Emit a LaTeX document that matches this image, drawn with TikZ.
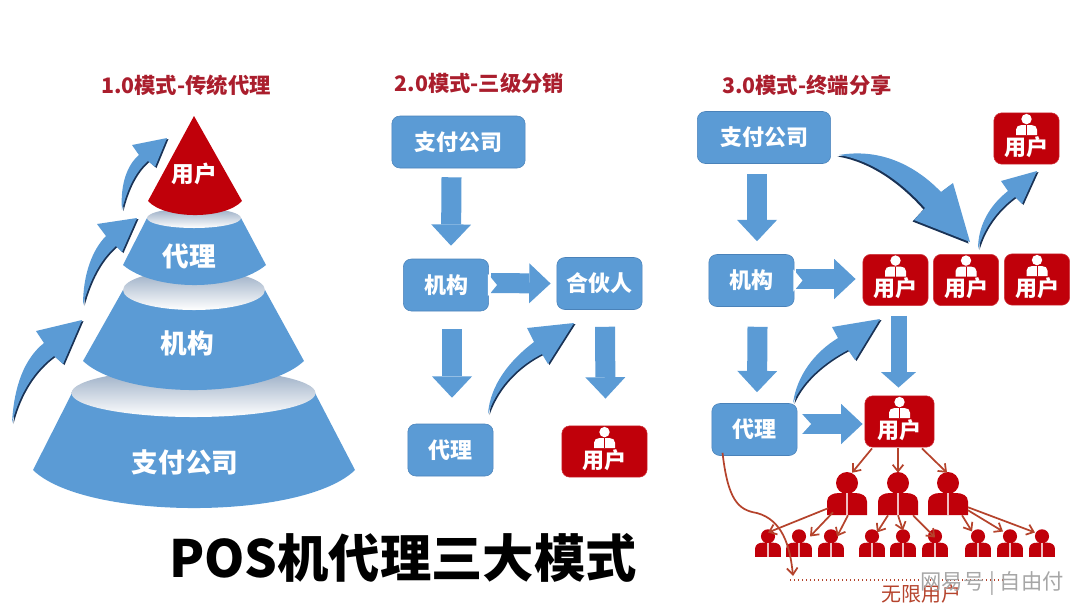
\documentclass[tikz,border=0pt]{standalone}
\usepackage{fontspec}
\usepackage{tikz}
\usetikzlibrary{arrows.meta,positioning}

\newfontfamily\cjk{Noto Sans CJK SC}

\definecolor{boxblue}{RGB}{91,155,213}
\definecolor{boxedge}{RGB}{74,130,185}
\definecolor{userred}{RGB}{192,0,10}
\definecolor{titlered}{RGB}{170,30,45}
\definecolor{linered}{RGB}{181,67,44}
\definecolor{lensgrey}{RGB}{150,170,195}
\definecolor{arrowdark}{RGB}{25,50,85}

\tikzset{
	paybox/.style={draw=boxedge,fill=boxblue,rounded corners=6pt,inner sep=0pt,minimum width=64pt,minimum height=39pt,text=white,font=\cjk\bfseries\fontsize{16.5pt}{16.5pt}\selectfont},
	widebox/.style={paybox,minimum width=100pt},
	userbox/.style={draw=userred!80!white,fill=userred,rounded corners=6pt,inner sep=0pt,minimum width=#1,minimum height=38.5pt,text=white,text height=25pt,text depth=0pt,font=\cjk\bfseries\fontsize{16.5pt}{16.5pt}\selectfont},
	person/.style={inner sep=0pt,minimum width=#1*30pt,minimum height=#1*32.25pt,
		path picture={
			\begin{scope}[shift={(path picture bounding box.center)},x=#1*0.75pt,y=-#1*0.75pt]
				\fill[userred] (0,-10.5) circle [radius=11];
				\fill[userred] (-20,21.5) -- (-20,8) .. controls (-20,2) and (-14,-0.5) .. (-8,-0.5) -- (8,-0.5) .. controls (14,-0.5) and (20,2) .. (20,8) -- (20,21.5) -- cycle;
				\draw[white!75!userred,line width=#1*1.5pt] (0,-0.5) -- (0,21.5);
			\end{scope}
		}},
	layerlabel/.style={text=white,font=\cjk\bfseries\fontsize{20pt}{20pt}\selectfont},
	blockarrow/.style={draw=boxblue,line width=15pt,-{Triangle[length=16pt,width=30pt,line width=0pt]}},
	redarrow/.style={draw=linered,line width=1.3pt,-{Straight Barb[length=5pt,width=8pt]}},
	modetitle/.style={text=titlered,font=\cjk\bfseries\fontsize{16pt}{16pt}\selectfont},
}

% white wedge cut into the tail of a block arrow
\newcommand{\tailnotch}[1]{\fill[white] ([shift={(-1,-11)}]#1) -- ([shift={(8,0)}]#1) -- ([shift={(-1,11)}]#1) -- cycle;}
% tapering bent arrow with its dark edge
\newcommand{\bentarrow}[2]{\fill[arrowdark,shift={#1}] #2; \fill[boxblue] #2;}

\begin{document}
\begin{tikzpicture}[x=0.75pt,y=0.75pt,yscale=-1,xscale=1]
	\useasboundingbox (0,0) rectangle (1080,608);
	
	% Pyramid
	\fill[boxblue] (33,470) .. controls (85,520.7) and (303,520.7) .. (355,470) -- (315,393) -- (72,393) -- cycle;
	\shade[top color=lensgrey,bottom color=white] (193.5,393) ellipse [x radius=122,y radius=24];
	\fill[boxblue] (83,361) .. controls (125,399.7) and (262,399.7) .. (304,361) -- (265,290) -- (123,290) -- cycle;
	\shade[top color=lensgrey,bottom color=white] (194,290) ellipse [x radius=71,y radius=20];
	\fill[boxblue] (123,265) .. controls (155,291.7) and (234,291.7) .. (266,265) -- (241,218) -- (147,218) -- cycle;
	\shade[top color=lensgrey,bottom color=white] (194,218) ellipse [x radius=47,y radius=10];
	\fill[userred] (148,201) .. controls (165,219.7) and (225,219.7) .. (242,201) -- (194,116) -- cycle;
	
	\node[layerlabel] (payA) at (185,462) {支付公司};
	\node[layerlabel] (orgA) at (187,343) {机构};
	\node[layerlabel] (agentA) at (189,256) {代理};
	\node[layerlabel,font=\cjk\bfseries\fontsize{17pt}{17pt}\selectfont] (userA) at (194,174) {用户};
	
	% Bent Arrows
	\bentarrow{(1.5,1)}{(12,423) .. controls (14,385) and (25,358) .. (44,343) -- (36,331) -- (82,320) -- (63,364) -- (54,356) .. controls (35,370) and (20,392) .. (12,423) -- cycle}
	\bentarrow{(1.5,1)}{(83,305) .. controls (83,275) and (92,250) .. (106,236) -- (97,224) -- (137,218) -- (122,252) -- (116,246) .. controls (100,260) and (90,280) .. (83,305) -- cycle}
	\bentarrow{(1.5,1)}{(122,210) .. controls (120,185) and (127,165) .. (139,155) -- (132,145) -- (167,138) -- (155,167) -- (148,161) .. controls (135,172) and (127,190) .. (122,210) -- cycle}
	\bentarrow{(1.5,1)}{(488,414) .. controls (490,385) and (510,360) .. (534,342) -- (527,328) -- (574,323) -- (548,364) -- (542,354) .. controls (520,365) and (498,385) .. (488,414) -- cycle}
	\bentarrow{(-1.5,1.5)}{(839,155) .. controls (880,148) and (915,165) .. (941,192) -- (953,183) -- (970,242) -- (914,220) -- (925,208) .. controls (900,180) and (870,160) .. (839,155) -- cycle}
	\bentarrow{(1.5,1)}{(978,249) .. controls (978,225) and (990,205) .. (1008,191) -- (1001,181) -- (1037,171) -- (1022,204) -- (1015,197) .. controls (1000,208) and (985,225) .. (978,249) -- cycle}
	\bentarrow{(1.5,1)}{(793,403) .. controls (797,375) and (815,352) .. (838,338) -- (832,327) -- (880,319) -- (855,360) -- (848,350) .. controls (825,362) and (803,380) .. (793,403) -- cycle}
	
	% Middle Column
	\node[widebox] (payB) at (458.5,142) {支付公司};
	\node[paybox] (orgB) at (446,285) {机构};
	\node[paybox] (partnerB) at (599.5,283.5) {合伙人};
	\node[paybox] (agentB) at (450.5,450) {代理};
	\node[userbox=64pt] (userB) at (604.5,451.5) {用户};
	
	\draw[blockarrow] ([shift={(-7,9)}]payB.south) -- ([shift={(5,-13)}]orgB.north);
	\draw[blockarrow] ([shift={(2,-2)}]orgB.east) -- ([shift={(-6,0)}]partnerB.west);
	\tailnotch{orgB.east}
	\draw[blockarrow] ([shift={(6,18)}]orgB.south) -- ([shift={(1.5,-26)}]agentB.north);
	\draw[blockarrow] ([shift={(5.5,17)}]partnerB.south) -- ([shift={(1,-27)}]userB.north);
	
	% Right Column
	\node[widebox] (payC) at (764,137.5) {支付公司};
	\node[paybox] (orgC) at (751.5,280.5) {机构};
	\node[paybox] (agentC) at (754.5,429.5) {代理};
	\node[userbox=49pt] (userC) at (1026.5,138.5) {用户};
	\node[userbox=49pt] (userD) at (895.5,280) {用户};
	\node[userbox=49pt] (userE) at (966,280) {用户};
	\node[userbox=49pt] (userF) at (1037,279.5) {用户};
	\node[userbox=52pt] (userG) at (899.5,421.5) {用户};
	
	% white figure on each red box
	\foreach \u in {userB,userC,userD,userE,userF,userG}{
		\begin{scope}[shift={(\u.north)}]
			\fill[white] (0,6.5) circle [radius=5.2];
			\fill[white] (-10.5,22.5) -- (-10.5,17) .. controls (-10.5,14) and (-8,12.5) .. (-5,12.5) -- (5,12.5) .. controls (8,12.5) and (10.5,14) .. (10.5,17) -- (10.5,22.5) -- cycle;
			\draw[userred,line width=0.7pt] (0,12.5) -- (0,22.5);
		\end{scope}
	}
	
	\draw[blockarrow] ([shift={(-7,10)}]payC.south) -- ([shift={(5.5,-13)}]orgC.north);
	\draw[blockarrow] ([shift={(2,-1.5)}]orgC.east) -- ([shift={(-7,-1)}]userD.west);
	\tailnotch{orgC.east}
	\draw[blockarrow] ([shift={(6,20)}]orgC.south) -- ([shift={(2.5,-11)}]agentC.north);
	\draw[blockarrow,line width=12pt,-{Triangle[length=11.5pt,width=26pt,line width=0pt]}] ([shift={(3,10)}]userD.south) -- ([shift={(-1,-8)}]userG.north);
	\draw[blockarrow] ([shift={(5,-5.5)}]agentC.east) -- ([shift={(-2,2.5)}]userG.west);
	\fill[white] (801,413) -- (811,424) -- (801,435) -- cycle;
	
	% People
	\node[person=1] (headA) at (847,493.5) {};
	\node[person=1] (headB) at (898,493.5) {};
	\node[person=1] (headC) at (948,493.5) {};
	\foreach \n/\x in {1/768,2/799,3/831,4/872,5/903,6/935,7/978,8/1010,9/1042}
		\node[person=0.64] (leaf\n) at (\x,543) {};
	
	\draw[redarrow] ([shift={(-27.5,1)}]userG.south) -- ([shift={(5,1)}]headA.north);
	\draw[redarrow] ([shift={(-1.5,1)}]userG.south) -- ([shift={(0,1)}]headB.north);
	\draw[redarrow] ([shift={(22.5,1)}]userG.south) -- ([shift={(-1,1)}]headC.north);
	
	\draw[redarrow] ([shift={(-19,-7)}]headA.south) -- ([shift={(0,3.5)}]leaf1.north);
	\draw[redarrow] ([shift={(-14,-3)}]headA.south) -- ([shift={(11,7.5)}]leaf2.north);
	\draw[redarrow] ([shift={(1,0)}]headA.south) -- ([shift={(6,7.5)}]leaf3.north);
	\draw[redarrow] ([shift={(-10,0)}]headB.south) -- ([shift={(5,3.5)}]leaf4.north);
	\draw[redarrow] (headB.south) -- ([shift={(0,1.5)}]leaf5.north);
	\draw[redarrow] ([shift={(15,0)}]headB.south) -- ([shift={(0,8.5)}]leaf6.north);
	\draw[redarrow] ([shift={(14,0)}]headC.south) -- ([shift={(-6,2.5)}]leaf7.north);
	\draw[redarrow] ([shift={(20,-5)}]headC.south) -- ([shift={(-7,2.5)}]leaf8.north);
	\draw[redarrow] ([shift={(20,-8)}]headC.south) -- ([shift={(-7,3.5)}]leaf9.north);
	
	% Limit Line
	\coordinate (limitL) at (790,580);
	\coordinate (limitR) at (1003,580);
	\coordinate (limitTip) at (793,576);
	\draw[linered,line width=1pt,dotted] (limitL) -- (limitR);
	\draw[redarrow] ([shift={(-32,-3)}]agentC.south) .. controls (728,500) and (738,510) .. (757,513) .. controls (782,520) and (790,545) .. (limitTip);
	
	% Text Node
	\node[modetitle] (titleA) at (186,85) {1.0模式-传统代理};
	\node[modetitle] (titleB) at (479.5,83) {2.0模式-三级分销};
	\node[modetitle] (titleC) at (807,85) {3.0模式-终端分享};
	\node[text=linered,font=\cjk\fontsize{15pt}{15pt}\selectfont] (limitText) at (921,594) {无限用户};
	\node[text=gray!70,font=\cjk\fontsize{16pt}{16pt}\selectfont] (mark) at (992,583) {网易号 | 自由付};
	\node[font=\cjk\bfseries\fontsize{38.5pt}{38.5pt}\selectfont] (mainTitle) at (403,558) {POS机代理三大模式};
	
\end{tikzpicture}
\end{document}
